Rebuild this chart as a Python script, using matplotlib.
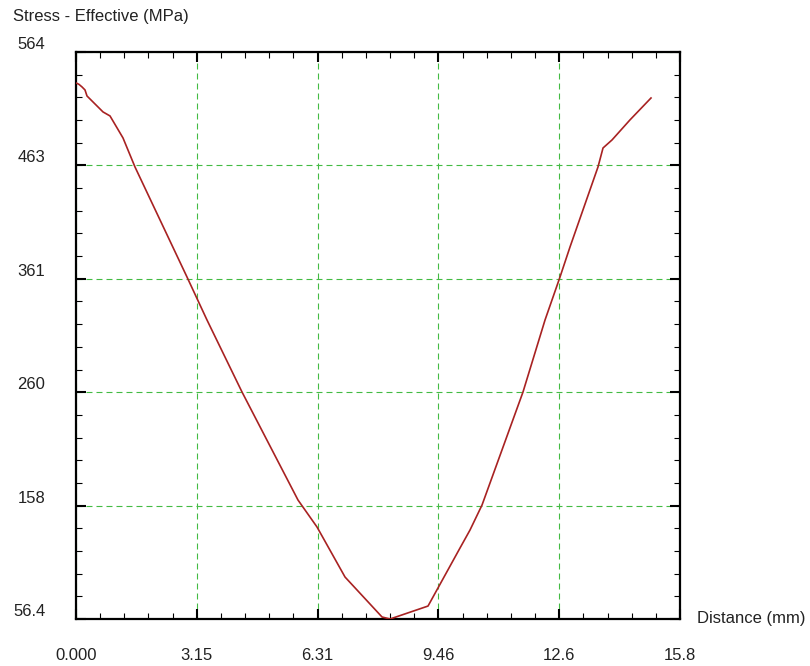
import numpy as np
import matplotlib
matplotlib.use("Agg")
import matplotlib.pyplot as plt
from matplotlib.ticker import AutoMinorLocator

plt.rcParams['font.family'] = ['Liberation Sans', 'DejaVu Sans']
plt.rcParams['lines.scale_dashes'] = False

# Effective stress along the path
distance_mm = [0.000, 0.078, 0.157, 0.235, 0.287, 0.705, 0.888, 1.227, 1.540,
               2.898, 3.420, 4.334, 5.796, 6.293, 7.024, 7.990, 8.199, 9.191,
               10.026, 10.287, 10.601, 11.671, 12.246, 12.637, 12.898, 13.629,
               13.760, 13.995, 14.465, 15.013]
stress_mpa = [536.7, 535.4, 533.1, 530.4, 525.0, 510.7, 507.1, 487.4, 461.4,
              362.8, 324.3, 259.8, 163.0, 138.8, 94.0, 58.2, 56.4, 68.0,
              120.0, 136.1, 158.5, 259.8, 324.3, 362.8, 389.7, 461.4,
              478.4, 485.6, 503.6, 523.2]

x_limits = (0.0, 15.77)
y_limits = (56.4, 564.4)
x_tick_labels = ["0.000", "3.15", "6.31", "9.46", "12.6", "15.8"]
y_tick_labels = ["56.4", "158", "260", "361", "463", "564"]

W, H = 810, 666
fig = plt.figure(figsize=(W / 100, H / 100), dpi=100)
ax = fig.add_axes([76 / W, 1 - 619 / H, (680 - 76) / W, (619 - 52) / H])

ax.plot(distance_mm, stress_mpa, color='#a82222', lw=1.2, zorder=3)

ax.set_xlim(*x_limits)
ax.set_ylim(*y_limits)
ax.set_xticks(np.linspace(*x_limits, len(x_tick_labels)), labels=x_tick_labels)
ax.set_yticks(np.linspace(*y_limits, len(y_tick_labels)), labels=y_tick_labels)
ax.xaxis.set_minor_locator(AutoMinorLocator(5))
ax.yaxis.set_minor_locator(AutoMinorLocator(5))

ax.tick_params(which='both', direction='in', top=True, right=True,
               colors='black', labelcolor='#222222', labelsize=12)
ax.tick_params(which='major', length=7.2, width=1.5)
ax.tick_params(which='minor', length=4.5, width=0.8)
ax.tick_params(axis='x', which='major', pad=21)
ax.tick_params(axis='y', which='major', pad=22)
for lbl in ax.get_yticklabels():
    lbl.set_verticalalignment('bottom')

for s in ax.spines.values():
    s.set_linewidth(1.6)
    s.set_color('black')

ax.grid(True, which='major', color='#44bb44', lw=0.8, linestyle=(0, (4.3, 2.9)))
ax.set_axisbelow(True)

fig.text(13 / W, 1 - 17 / H, "Stress - Effective (MPa)", ha='left', va='center',
         fontsize=12, color='#222222')
ax.text(1 + 17 / 604, 0, "Distance (mm)", transform=ax.transAxes,
        ha='left', va='center', fontsize=12, color='#222222')

fig.savefig("out.png", dpi=100)
